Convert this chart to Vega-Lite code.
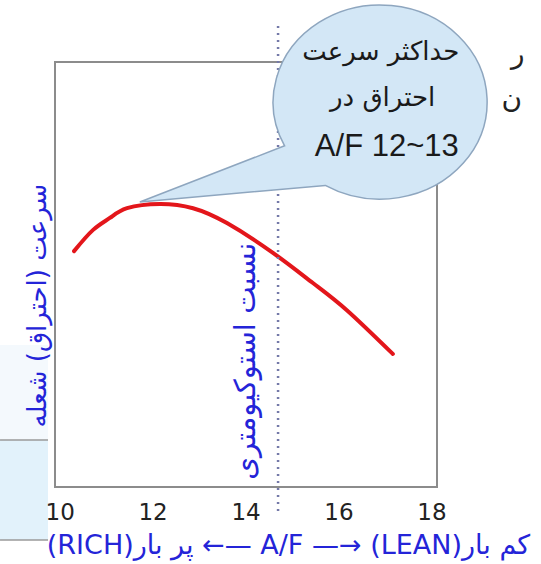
{
  "$schema": "https://vega.github.io/schema/vega-lite/v6.json",
  "width": 382,
  "height": 425,
  "autosize": {"type": "none"},
  "padding": {"left": 55, "top": 62, "right": 104, "bottom": 77},
  "background": "white",
  "config": {"view": {"stroke": "#8c8c8c", "strokeWidth": 2}, "font": "DejaVu Sans"},
  "datasets": {
    "panel": [
      {"af": 8.717, "af2": 9.75, "v": 33.4, "v2": 11.06, "shade": "a"},
      {"af": 8.717, "af2": 9.75, "v": 11.06, "v2": -12.47, "shade": "b"}
    ],
    "panelLines": [
      {"af": 8.717, "af2": 9.75, "v": 11.06},
      {"af": 8.717, "af2": 9.75, "v": -12.47}
    ],
    "stoich": [{"af": 14.7, "v": 108.5, "v2": -6.6}],
    "curve": [
      {"af": 10.31, "v": 55.5},
      {"af": 10.72, "v": 60.5},
      {"af": 11.08, "v": 63.3},
      {"af": 11.45, "v": 65.6},
      {"af": 12.16, "v": 66.6},
      {"af": 12.87, "v": 65.6},
      {"af": 13.6, "v": 62.1},
      {"af": 14.59, "v": 55.1},
      {"af": 15.45, "v": 48.0},
      {"af": 16.18, "v": 41.6},
      {"af": 17.17, "v": 31.3}
    ],
    "bubble": [{"af": 16.89, "v": 90.6}],
    "bubbleArabic": [
      {"af": 16.91, "v": 102.4, "label": "حداکثر سرعت"},
      {"af": 16.95, "v": 91.5, "label": "احتراق در"}
    ],
    "bubbleLatin": [
      {"af": 17.04, "v": 80, "label": "A/F 12~13"}
    ],
    "fragments": [
      {"af": 19.86, "v": 101.6, "label": "ر"},
      {"af": 19.73, "v": 91.3, "label": "ن"}
    ],
    "vlabel": [{"af": 14.0, "v": 29.6, "label": "نسبت استوکیومتری"}]
  },
  "encoding": {
    "x": {
      "field": "af", "type": "quantitative",
      "scale": {"domain": [9.9, 18.12], "nice": false, "zero": false},
      "axis": {
        "values": [10, 12, 14, 16, 18], "domain": false, "ticks": false, "grid": false, "zindex": 1,
        "labelFontSize": 23, "labelColor": "#222222", "labelPadding": 14, "labelFont": "DejaVu Sans", "labelFlush": false,
        "title": "(RICH)پر بار ←— A/F  —→ (LEAN)کم بار",
        "titleFontSize": 27, "titleColor": "#2424d8", "titleFontWeight": "normal", "titleFont": "DejaVu Sans",
        "titleX": 233, "titleY": 58, "titleBaseline": "middle", "titleAlign": "center"
      }
    },
    "y": {
      "field": "v", "type": "quantitative",
      "scale": {"domain": [0, 100], "nice": false, "zero": false},
      "axis": {
        "domain": false, "ticks": false, "labels": false, "grid": false, "zindex": 1,
        "title": "سرعت (احتراق) شعله",
        "titleFontSize": 26, "titleColor": "#2424d8", "titleFontWeight": "normal", "titleFont": "DejaVu Sans",
        "titleX": -18, "titleY": 243, "titleAngle": 270, "titleBaseline": "middle", "titleAlign": "center"
      }
    }
  },
  "layer": [
    {
      "data": {"name": "panel"},
      "mark": {"type": "rect", "clip": false},
      "encoding": {
        "x2": {"field": "af2"},
        "y2": {"field": "v2"},
        "color": {"field": "shade", "type": "nominal", "scale": {"domain": ["a", "b"], "range": ["#f4f9fd", "#e2f2fb"]}, "legend": null}
      }
    },
    {
      "data": {"name": "panelLines"},
      "mark": {"type": "rule", "color": "#9a9a9a", "strokeWidth": 1.5},
      "encoding": {
        "x2": {"field": "af2"}
      }
    },
    {
      "data": {"name": "curve"},
      "mark": {"type": "line", "color": "#e3161b", "strokeWidth": 4, "interpolate": "natural", "strokeCap": "round"},
      "encoding": {}
    },
    {
      "data": {"name": "stoich"},
      "mark": {"type": "rule", "color": "#7479a8", "strokeWidth": 2.5, "strokeDash": [2, 5]},
      "encoding": {
        "y2": {"field": "v2"}
      }
    },
    {
      "data": {"name": "vlabel"},
      "mark": {"type": "text", "angle": 270, "fontSize": 29, "color": "#2424d8", "align": "center", "baseline": "middle", "font": "DejaVu Sans"},
      "encoding": {
        "text": {"field": "label"}
      }
    },
    {
      "data": {"name": "bubble"},
      "mark": {
        "type": "point", "filled": true, "opacity": 1,
        "shape": "M -0.89 0.41 L -2.243 0.935 L -0.51 0.78 A 1 0.907 0 1 0 -0.89 0.41 Z",
        "size": 45796, "fill": "#d3e7f6", "stroke": "#8ea6bf", "strokeWidth": 1.5
      },
      "encoding": {}
    },
    {
      "data": {"name": "bubbleArabic"},
      "mark": {"type": "text", "fontSize": 26, "color": "#1a1a1a", "align": "center", "baseline": "middle", "font": "DejaVu Sans"},
      "encoding": {
        "text": {"field": "label"}
      }
    },
    {
      "data": {"name": "bubbleLatin"},
      "mark": {"type": "text", "fontSize": 31, "color": "#1a1a1a", "align": "center", "baseline": "middle", "font": "Liberation Sans"},
      "encoding": {
        "text": {"field": "label"}
      }
    },
    {
      "data": {"name": "fragments"},
      "mark": {"type": "text", "fontSize": 28, "color": "#222222", "align": "center", "baseline": "middle", "font": "DejaVu Sans"},
      "encoding": {
        "text": {"field": "label"}
      }
    }
  ]
}
